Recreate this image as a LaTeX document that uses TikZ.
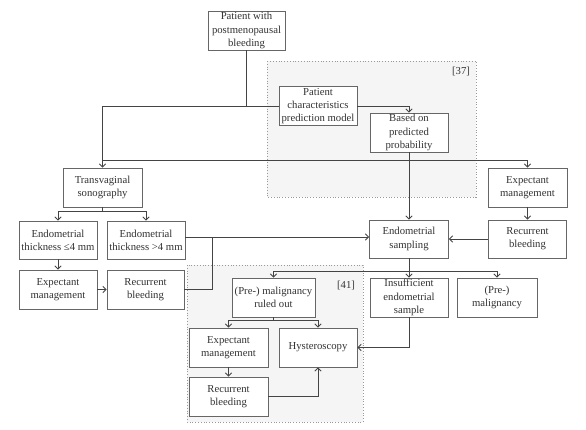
\documentclass[tikz,border=0pt]{standalone}
\usepackage{fontspec}
\setmainfont{Liberation Serif}
\usetikzlibrary{arrows.meta}
\definecolor{txt}{HTML}{333333}
\definecolor{bord}{HTML}{666666}
\definecolor{ln}{HTML}{444444}
\definecolor{bg}{HTML}{F5F5F5}
\tikzset{
  box/.style={draw=bord, line width=0.9pt, fill=white, text=txt, align=center,
    inner sep=0.5pt, font=\fontsize{10.7}{13.3}\selectfont},
  conn/.style={draw=ln, line width=0.8pt},
  arr/.style={conn, -{Straight Barb[length=3.2pt,width=6.5pt]}},
  grp/.style={draw=gray!80, dotted, line width=0.8pt, fill=bg},
  ref/.style={text=txt, font=\fontsize{10.7}{13.3}\selectfont}
}
\begin{document}
\begin{tikzpicture}[x=1pt,y=-1pt]
\useasboundingbox (0,0) rectangle (586,430);
% groups
\draw[grp] (267,61) rectangle (476,197);
\draw[grp] (187,265) rectangle (363,422);
\node[ref] (r37) at (461,72) {[37]};
\node[ref] (r41) at (346,286) {[41]};
% nodes
\node[box, minimum width=77pt, minimum height=39pt] (pat) at (246.5,30.5) {Patient with\\postmenopausal\\bleeding};
\node[box, minimum width=78pt, minimum height=39pt] (pcm) at (318,106) {Patient\\characteristics\\prediction model};
\node[box, minimum width=78pt, minimum height=39pt] (bpp) at (409,132.5) {Based on\\predicted\\probability};
\node[box, minimum width=79pt, minimum height=39pt] (tvs) at (102.5,187.5) {Transvaginal\\sonography};
\node[box, minimum width=78pt, minimum height=38pt] (e4l) at (58,240) {Endometrial\\thickness ≤4 mm};
\node[box, minimum width=78pt, minimum height=38pt] (e4g) at (146,240) {Endometrial\\thickness >4 mm};
\node[box, minimum width=78pt, minimum height=39pt] (em1) at (58,289.5) {Expectant\\management};
\node[box, minimum width=77pt, minimum height=39pt] (rb1) at (145.5,289.5) {Recurrent\\bleeding};
\node[box, minimum width=79pt, minimum height=38pt] (es) at (409,239) {Endometrial\\sampling};
\node[box, minimum width=79pt, minimum height=39pt] (em2) at (527.5,187.5) {Expectant\\management};
\node[box, minimum width=78pt, minimum height=38pt] (rb2) at (527.5,239) {Recurrent\\bleeding};
\node[box, minimum width=78pt, minimum height=39pt] (ins) at (409,297.5) {Insufficient\\endometrial\\sample};
\node[box, minimum width=80pt, minimum height=39pt] (pm) at (497,297.5) {(Pre-)\\malignancy};
\node[box, minimum width=83pt, minimum height=39pt] (ro) at (273.5,297.5) {(Pre-) malignancy\\ruled out};
\node[box, minimum width=79pt, minimum height=39pt] (em3) at (228.5,347.5) {Expectant\\management};
\node[box, minimum width=78pt, minimum height=39pt] (hys) at (318,347.5) {Hysteroscopy};
\node[box, minimum width=79pt, minimum height=39pt] (rb3) at (228.5,396.5) {Recurrent\\bleeding};
% junctions
\coordinate (j1) at (pat.south |- pcm.west);
\coordinate (j2) at (102.5,160);
\coordinate (j3) at (102.5,211);
\coordinate (j4) at (212,237);
\coordinate (j5) at (409,271);
\coordinate (j6) at (273.5,320);
% connectors
\draw[conn] (pat.south) -- (j1) -- (pcm.west);
\draw[arr] (j1) -| (tvs.north);
\draw[arr] (j2) -| (em2.north);
\draw[arr] (pcm.east) -| (bpp.north);
\draw[arr] (bpp.south) -- (es.north);
\draw[conn] (tvs.south) -- (j3);
\draw[arr] (j3) -| (e4l.north);
\draw[arr] (j3) -| (e4g.north);
\draw[arr] (e4l.south) -- (em1.north);
\draw[arr] (em1.east) -- (rb1.west);
\draw[arr] (e4g.east |- j4) -- (es.west |- j4);
\draw[conn] (rb1.east) -| (j4);
\draw[arr] (em2.south) -- (rb2.north);
\draw[arr] (rb2.west) -- (es.east);
\draw[conn] (es.south) -- (j5);
\draw[arr] (j5) -- (ins.north);
\draw[arr] (j5) -| (ro.north);
\draw[arr] (j5) -| (pm.north);
\draw[conn] (ro.south) -- (j6);
\draw[arr] (j6) -| (em3.north);
\draw[arr] (j6) -| (hys.north);
\draw[arr] (em3.south) -- (rb3.north);
\draw[arr] (rb3.east) -| (hys.south);
\draw[arr] (ins.south) |- (hys.east);
\end{tikzpicture}
\end{document}
